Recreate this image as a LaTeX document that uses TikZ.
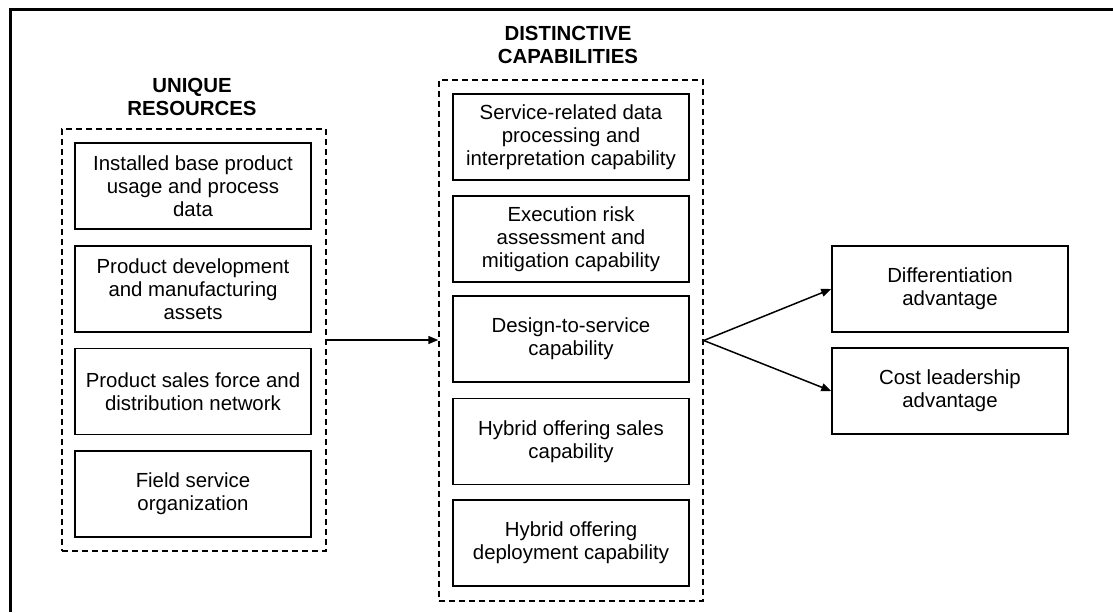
\documentclass[tikz,border=0pt]{standalone}
\usepackage{fontspec}
\setmainfont{Liberation Sans}
\usetikzlibrary{arrows.meta,positioning}

\tikzset{
  itembox/.style={rectangle,draw,line width=0.75pt,minimum width=118pt,minimum height=43pt,align=center,inner sep=0pt},
  groupbox/.style={rectangle,draw,dash pattern=on 3pt off 2pt,line width=0.75pt,minimum width=132pt,inner sep=0pt},
  grouptitle/.style={align=center,font=\fontsize{10.2}{11.6}\selectfont\bfseries},
  link/.style={-{Triangle[length=5pt,width=4pt]},line width=0.75pt}
}

\begin{document}
\begin{tikzpicture}[x=0.5pt,y=-0.5pt,font=\fontsize{10.2}{11.6}\selectfont]
    \useasboundingbox (0,0) rectangle (1113,612);
    % outer frame (cut off at right and bottom)
    \draw[line width=1.5pt] (10,612) -- (10,9) -- (1113,9);

    % Unique resources
    \node[grouptitle] (restitle) at (192,97) {UNIQUE\\RESOURCES};
    \node[groupbox,minimum height=211pt] (res) at (194,340) {};
    \node[itembox] (res1) at (193,186) {Installed base product\\usage and process\\data};
    \node[itembox] (res2) at (193,289) {Product development\\and manufacturing\\assets};
    \node[itembox] (res3) at (193,391.5) {Product sales force and\\distribution network};
    \node[itembox] (res4) at (193,494) {Field service\\organization};

    % Distinctive capabilities
    \node[grouptitle] (captitle) at (568,45) {DISTINCTIVE\\CAPABILITIES};
    \node[groupbox,minimum height=260.5pt] (cap) at (571,340.5) {};
    \node[itembox] (cap1) at (571,137) {Service-related data\\processing and\\interpretation capability};
    \node[itembox] (cap2) at (571,239) {Execution risk\\assessment and\\mitigation capability};
    \node[itembox] (cap3) at (571,339) {Design-to-service\\capability};
    \node[itembox] (cap4) at (571,441.5) {Hybrid offering sales\\capability};
    \node[itembox] (cap5) at (571,543) {Hybrid offering\\deployment capability};

    % Competitive advantages
    \node[itembox] (diff) at (950,289) {Differentiation\\advantage};
    \node[itembox] (cost) at (950,391) {Cost leadership\\advantage};

    % connectors
    \draw[link] (res.east) -- (res.east -| cap.west);
    \draw[link] (cap.east) -- (diff.west);
    \draw[link] (cap.east) -- (cost.west);
\end{tikzpicture}
\end{document}
